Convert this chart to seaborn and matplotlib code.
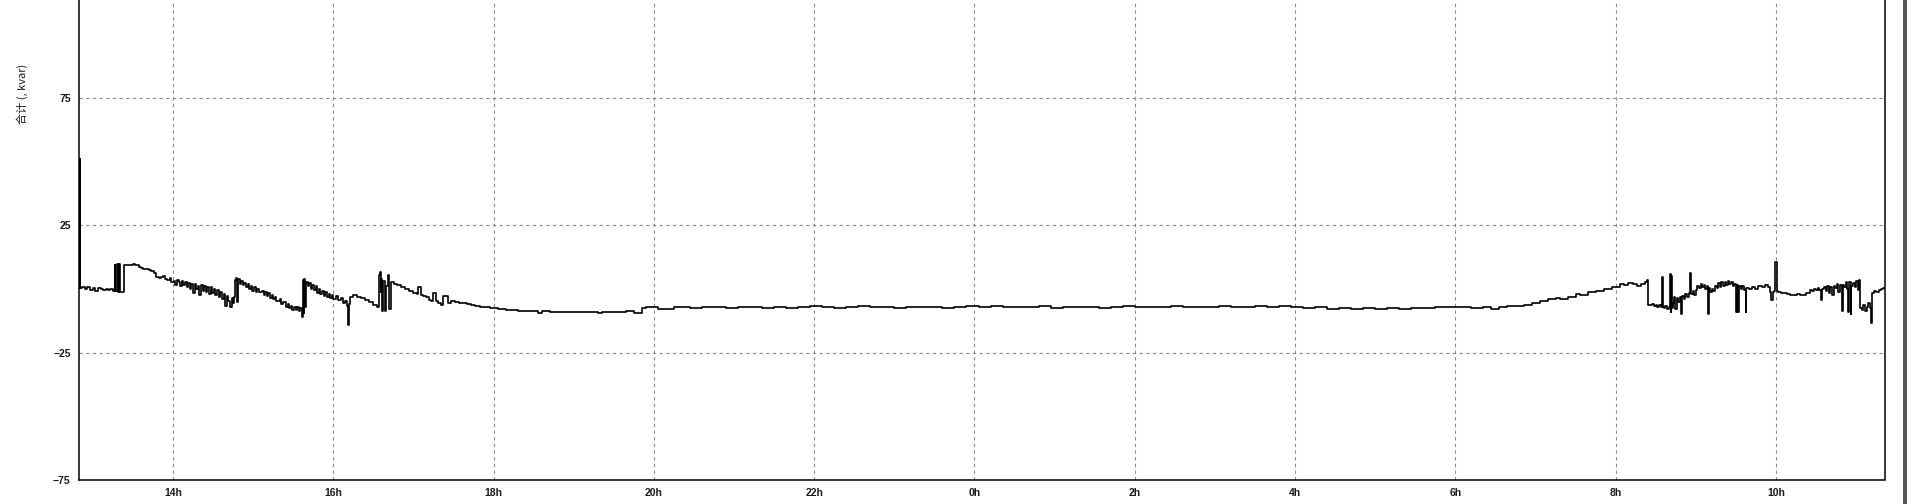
import matplotlib
matplotlib.use("Agg")
import matplotlib.pyplot as plt
import matplotlib.ticker as mticker
from matplotlib.patches import Rectangle
import seaborn as sns

# time in hours since midnight of day 1 (values past 24 belong to the next day)
hours = [
    12.830, 12.835, 12.840, 12.87, 12.90, 12.93, 12.96, 13.00, 13.03, 13.06,
    13.10, 13.13, 13.16, 13.19, 13.22, 13.25, 13.27, 13.28, 13.30, 13.31,
    13.33, 13.34, 13.36, 13.38, 13.39, 13.45, 13.50, 13.53, 13.57, 13.60,
    13.63, 13.66, 13.70, 13.73, 13.76, 13.79, 13.82, 13.85, 13.88, 13.90,
    13.93, 13.96, 13.98, 14.01, 14.03, 14.05, 14.07, 14.09, 14.11, 14.13,
    14.15, 14.17, 14.19, 14.21, 14.23, 14.25, 14.27, 14.29, 14.31, 14.33,
    14.35, 14.37, 14.39, 14.41, 14.43, 14.45, 14.47, 14.49, 14.51, 14.53,
    14.55, 14.57, 14.59, 14.61, 14.63, 14.65, 14.67, 14.69, 14.71, 14.73,
    14.75, 14.76, 14.77, 14.79, 14.80, 14.81, 14.83, 14.85, 14.87, 14.89,
    14.91, 14.93, 14.95, 14.97, 14.99, 15.01, 15.03, 15.05, 15.07, 15.09,
    15.11, 15.13, 15.15, 15.17, 15.19, 15.21, 15.23, 15.25, 15.27, 15.29,
    15.31, 15.33, 15.35, 15.37, 15.39, 15.41, 15.43, 15.45, 15.47, 15.49,
    15.51, 15.53, 15.55, 15.57, 15.59, 15.61, 15.62, 15.63, 15.64, 15.65,
    15.66, 15.68, 15.70, 15.72, 15.74, 15.76, 15.78, 15.80, 15.82, 15.84,
    15.86, 15.88, 15.90, 15.92, 15.94, 15.96, 15.98, 16.00, 16.03, 16.06,
    16.09, 16.12, 16.15, 16.17, 16.185, 16.20, 16.21, 16.25, 16.30, 16.35,
    16.40, 16.45, 16.50, 16.55, 16.57, 16.58, 16.59, 16.60, 16.61, 16.62,
    16.64, 16.66, 16.68, 16.70, 16.72, 16.76, 16.80, 16.85, 16.90, 16.95,
    17.00, 17.04, 17.06, 17.09, 17.12, 17.16, 17.20, 17.22, 17.25, 17.28,
    17.31, 17.34, 17.37, 17.41, 17.43, 17.47, 17.52, 17.57, 17.62, 17.67,
    17.72, 17.77, 17.83, 17.90, 17.95, 18.00, 18.05, 18.10, 18.15, 18.20,
    18.30, 18.40, 18.50, 18.55, 18.60, 18.70, 18.80, 18.90, 19.00, 19.10,
    19.20, 19.30, 19.35, 19.45, 19.55, 19.65, 19.75, 19.85, 19.90, 20.00,
    20.05, 20.15, 20.25, 20.30, 20.45, 20.60, 20.75, 20.90, 21.05, 21.20,
    21.35, 21.50, 21.65, 21.80, 21.95, 22.10, 22.25, 22.40, 22.55, 22.70,
    22.85, 23.00, 23.15, 23.30, 23.45, 23.60, 23.75, 23.90, 24.05, 24.20,
    24.35, 24.50, 24.65, 24.80, 24.95, 25.10, 25.25, 25.40, 25.55, 25.70,
    25.85, 26.00, 26.15, 26.30, 26.45, 26.60, 26.75, 26.90, 27.05, 27.20,
    27.35, 27.50, 27.65, 27.80, 27.95, 28.10, 28.25, 28.40, 28.55, 28.70,
    28.85, 29.00, 29.15, 29.30, 29.45, 29.60, 29.75, 29.90, 30.05, 30.20,
    30.35, 30.45, 30.55, 30.65, 30.75, 30.85, 30.95, 31.05, 31.15, 31.25,
    31.30, 31.40, 31.50, 31.55, 31.65, 31.75, 31.85, 31.95, 32.05, 32.10,
    32.15, 32.22, 32.27, 32.32, 32.37, 32.39, 32.40, 32.42, 32.45, 32.48,
    32.50, 32.52, 32.54, 32.56, 32.575, 32.585, 32.60, 32.62, 32.64, 32.66,
    32.675, 32.685, 32.695, 32.705, 32.72, 32.73, 32.745, 32.76, 32.78, 32.80,
    32.815, 32.83, 32.85, 32.87, 32.89, 32.91, 32.93, 32.94, 32.96, 32.98,
    33.00, 33.02, 33.04, 33.06, 33.08, 33.10, 33.12, 33.14, 33.15, 33.16,
    33.18, 33.20, 33.22, 33.24, 33.26, 33.28, 33.30, 33.32, 33.34, 33.36,
    33.38, 33.40, 33.42, 33.44, 33.46, 33.48, 33.50, 33.51, 33.53, 33.54,
    33.56, 33.58, 33.60, 33.62, 33.63, 33.66, 33.70, 33.74, 33.78, 33.82,
    33.86, 33.90, 33.92, 33.94, 33.96, 33.98, 33.99, 34.00, 34.01, 34.03,
    34.06, 34.10, 34.14, 34.18, 34.22, 34.26, 34.30, 34.34, 34.38, 34.42,
    34.45, 34.48, 34.50, 34.52, 34.54, 34.56, 34.58, 34.60, 34.62, 34.64,
    34.66, 34.68, 34.70, 34.72, 34.74, 34.76, 34.78, 34.80, 34.82, 34.83,
    34.85, 34.87, 34.89, 34.90, 34.91, 34.93, 34.94, 34.96, 34.98, 35.00,
    35.02, 35.04, 35.05, 35.07, 35.09, 35.11, 35.13, 35.15, 35.17, 35.19,
    35.20, 35.22, 35.25, 35.28, 35.31, 35.34, 35.36,
]

# total reactive power, kvar
kvar = [
    0.5, 51.0, 0.5, 0.8, 0.2, 0.6, -0.2, 0.4, -0.8, 0.3,
    0.0, -0.3, 0.2, -0.5, 0.0, -0.6, 9.5, -0.8, 9.8, -1.2,
    10.0, -1.0, -1.2, -1.0, 9.4, 9.5, 9.9, 9.3, 8.6, 8.4,
    8.0, 7.8, 7.6, 7.0, 6.2, 4.8, 4.2, 4.6, 5.0, 4.0,
    3.6, 4.3, 2.8, 3.0, 1.6, 3.4, 2.6, 1.2, 3.0, 1.6,
    2.6, 0.6, 2.4, 0.2, 1.8, -1.5, 2.0, 0.0, 1.2, -2.5,
    1.6, -0.6, 1.0, -1.2, 0.8, -2.0, 0.6, -1.6, 0.2, -2.4,
    -0.4, -3.2, -1.2, -3.8, -2.0, -6.5, -2.8, -4.6, -7.2, -3.4,
    -5.5, -3.0, 3.5, 4.2, -5.0, 3.8, 2.0, 3.2, 1.4, 2.4,
    0.6, 1.8, 0.0, 1.2, -0.6, 0.8, -1.2, 0.2, -1.0, -1.2,
    -0.6, -2.2, -1.0, -2.8, -1.6, -3.4, -2.2, -4.0, -3.0, -4.6,
    -4.6, -3.8, -5.8, -5.2, -5.2, -7.0, -6.0, -7.6, -6.6, -8.2,
    -7.0, -8.4, -7.2, -8.6, -7.4, -11.0, 3.4, -9.5, 3.8, -7.0,
    2.8, 1.0, 2.2, 0.2, 1.6, -0.4, 1.0, -1.4, 0.2, -2.0,
    -0.6, -2.6, -1.2, -3.0, -1.8, -3.6, -2.2, -3.8, -2.6, -4.4,
    -3.4, -5.6, -4.6, -6.8, -14.0, -6.0, -3.0, -2.4, -3.0, -3.6,
    -4.2, -5.0, -6.2, -7.2, 5.4, 6.8, -1.0, 4.0, -8.6, 3.0,
    -8.8, 1.0, 5.6, -8.0, 2.6, 2.0, 1.4, 0.8, 0.0, -0.6,
    -1.4, -2.0, 0.6, -2.2, -2.6, -3.2, -4.2, -4.8, -1.6, -4.8,
    -5.6, -6.2, -2.6, -2.6, -5.6, -4.6, -5.0, -5.4, -5.4, -6.0,
    -6.2, -6.6, -6.9, -7.2, -7.4, -7.4, -7.8, -8.0, -8.4, -8.2,
    -8.6, -8.8, -8.8, -9.4, -8.8, -9.0, -9.2, -9.0, -9.2, -9.2,
    -9.2, -9.6, -9.0, -9.2, -9.2, -8.8, -9.4, -7.6, -7.0, -7.2,
    -7.8, -7.8, -7.2, -7.0, -7.4, -7.0, -7.2, -7.5, -7.0, -7.2,
    -7.6, -7.0, -7.3, -7.1, -6.8, -7.2, -7.5, -7.0, -6.8, -7.2,
    -6.9, -7.4, -7.0, -7.2, -6.9, -7.3, -7.0, -6.8, -7.1, -6.8,
    -7.2, -6.9, -7.0, -6.8, -7.3, -6.9, -7.2, -7.0, -7.4, -7.0,
    -6.8, -7.1, -6.9, -7.0, -6.8, -7.1, -7.0, -6.9, -6.8, -7.0,
    -6.9, -6.8, -7.0, -6.8, -7.1, -7.3, -7.0, -7.8, -7.4, -7.9,
    -7.4, -7.7, -7.5, -7.9, -7.4, -7.6, -7.2, -7.0, -7.2, -7.4,
    -7.2, -8.0, -7.2, -6.8, -6.6, -6.2, -5.6, -4.8, -4.0, -3.4,
    -3.8, -3.0, -2.0, -2.4, -1.2, -0.6, 0.0, 0.8, 1.8, 1.4,
    2.4, 2.0, 1.2, 1.8, 2.6, 3.5, -6.2, -6.4, -6.0, -6.8,
    -6.2, -7.0, -6.4, -7.2, 4.8, -7.0, -7.4, -6.8, -8.0, -7.0,
    6.0, -9.2, 5.0, -7.6, -5.6, -3.0, -8.0, -3.6, -5.0, -3.2,
    -10.0, -2.8, -4.0, -2.0, -3.2, -1.4, 6.2, -2.0, -0.6, -2.4,
    -0.2, 1.2, 0.4, 1.8, 0.6, 1.4, 0.2, 1.0, -10.0, 0.4,
    -1.2, 0.2, -0.6, 1.0, 0.4, 2.2, 0.8, 2.6, 1.2, 2.8,
    1.6, 3.0, 1.8, 2.6, 1.0, 2.0, -9.0, 1.4, -9.0, 1.2,
    0.2, 1.0, -0.2, -9.0, 0.4, 0.2, 0.6, 0.2, 1.0, 0.6,
    1.6, 0.8, -1.0, -4.4, -1.2, -0.6, 10.5, 10.8, -0.8, -1.0,
    -1.4, -1.6, -2.0, -2.2, -2.2, -1.8, -2.4, -2.2, -1.4, -0.4,
    -0.8, 0.2, -0.4, 0.4, -0.2, -4.2, 0.2, 0.8, -0.6, 1.0,
    -1.6, 0.6, -2.4, 1.2, 0.4, 2.0, -1.0, 1.4, -8.8, 1.6,
    0.8, 2.6, 0.2, -9.0, 2.8, -10.0, 1.0, 2.4, 0.6, 3.2,
    -0.4, 3.6, -7.4, -8.2, -6.4, -8.6, -7.0, -5.6, -7.4, -13.4,
    -1.6, -0.8, -1.0, -0.2, 0.0, 0.4, 0.4,
]

y_major = [-75, -25, 25, 75]
y_label = "合计 (, kvar)"


def hour_label(v, pos):
    return f"{int(round(v)) % 24}h"


def make_chart():
    sns.set_style("white")
    plt.rcParams["font.family"] = ["Liberation Sans", "DejaVu Sans"]

    fig = plt.figure(figsize=(19.07, 5.04), dpi=100)
    ax = fig.add_axes([79 / 1907, 24 / 504, (1884.5 - 79) / 1907, 480 / 504])

    sns.lineplot(x=hours, y=kvar, ax=ax, color="black", linewidth=1.2,
                 estimator=None, sort=False, drawstyle="steps-post")

    ax.set_xlim(12.827, 35.354)
    ax.set_ylim(-75, 113.5)

    ax.xaxis.set_major_locator(mticker.MultipleLocator(2))
    ax.xaxis.set_minor_locator(mticker.MultipleLocator(0.5))
    ax.xaxis.set_major_formatter(mticker.FuncFormatter(hour_label))
    ax.yaxis.set_major_locator(mticker.FixedLocator(y_major))
    ax.yaxis.set_minor_locator(mticker.MultipleLocator(12.5))

    ax.grid(True, which="major", linestyle=(0, (3, 3)), color="#8a8a8a", linewidth=0.8)
    ax.tick_params(which="major", direction="out", length=4, width=0.8,
                   labelsize=7.5, colors="#1a1a1a", pad=2)
    ax.tick_params(which="minor", direction="out", length=3, width=0.8, colors="#1a1a1a")
    for lbl in ax.get_xticklabels() + ax.get_yticklabels():
        lbl.set_fontweight("bold")

    for side in ["left", "bottom", "right"]:
        ax.spines[side].set_color("black")
        ax.spines[side].set_linewidth(1.1)
    ax.spines["top"].set_visible(False)

    ax.set_xlabel("")
    ax.set_ylabel("")
    fig.text(22 / 1907, 1 - 94 / 504, y_label, rotation=90, ha="center", va="center",
             fontsize=8, color="#1a1a1a", family=["Noto Sans CJK SC", "DejaVu Sans"])

    # window border on the right edge
    fig.patches.append(Rectangle((1902.5 / 1907, 0), 4.5 / 1907, 1, transform=fig.transFigure,
                                 facecolor="#555555", edgecolor="none"))

    fig.savefig("out.png", dpi=100)
    plt.close(fig)


if __name__ == "__main__":
    make_chart()
